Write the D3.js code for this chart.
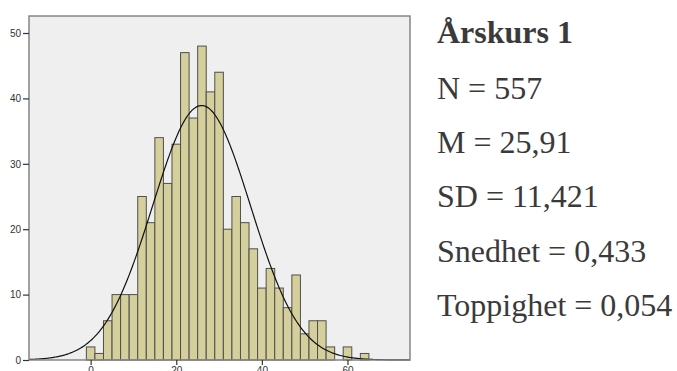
<!DOCTYPE html>
<html>
<head>
<meta charset="utf-8">
<script src="https://cdn.jsdelivr.net/npm/d3@7"></script>
<style>
html,body{margin:0;padding:0;background:#fff;}
svg{display:block;}
</style>
</head>
<body>
<svg id="chart" width="677" height="371"></svg>
<script>
// ---- Data ----
const binStarts = [-1,1,3,5,7,9,11,13,15,17,19,21,23,25,27,29,31,33,35,37,39,41,43,45,47,49,51,53,55,57,59,61,63];
const binWidth = 2;
const counts = [2,1,6,10,10,10,25,21,34,27,33,47,37,48,41,44,20,25,21,17,11,14,11,8,13,4,6,6,2,0,2,0,1];
const yTicks = [0,10,20,30,40,50];
const xTicks = [0,20,40,60];
const statN = 557, statMean = 25.91, statSD = 11.421;
const title = "Årskurs 1";
const statLines = ["N = 557","M = 25,91","SD = 11,421","Snedhet = 0,433","Toppighet = 0,054"];

// ---- Layout ----
const svg = d3.select("#chart");
const L = 29, R = 410, T = 16, B = 360;

const x = d3.scaleLinear().domain([-14.4, 74.6]).range([L, R]);
const y = d3.scaleLinear().domain([0, 52.6]).range([B, T]);

// background
svg.append("rect").attr("x", L).attr("y", T).attr("width", R - L).attr("height", B - T)
  .attr("fill", "#efefef");

// bars
const bins = binStarts.map((s, i) => ({x0: s, x1: s + binWidth, n: counts[i]}));
svg.append("g").selectAll("rect").data(bins.filter(d => d.n > 0)).join("rect")
  .attr("x", d => x(d.x0))
  .attr("y", d => y(d.n))
  .attr("width", d => x(d.x1) - x(d.x0))
  .attr("height", d => y(0) - y(d.n))
  .attr("fill", "#d4cf9b")
  .attr("stroke", "#4f4f4f")
  .attr("stroke-width", 1);

// normal curve
const pdf = v => Math.exp(-0.5 * Math.pow((v - statMean) / statSD, 2)) / (statSD * Math.sqrt(2 * Math.PI));
const xs = d3.range(x.domain()[0], x.domain()[1] + 0.01, 0.25);
svg.append("path")
  .datum(xs)
  .attr("fill", "none")
  .attr("stroke", "#111")
  .attr("stroke-width", 1.2)
  .attr("d", d3.line().x(v => x(v)).y(v => y(statN * binWidth * pdf(v))));

// frame
svg.append("rect").attr("x", L).attr("y", T).attr("width", R - L).attr("height", B - T)
  .attr("fill", "none").attr("stroke", "#858585").attr("stroke-width", 1.5);

// axes
const yAxis = svg.append("g").attr("transform", `translate(${L},0)`)
  .call(d3.axisLeft(y).tickValues(yTicks).tickSize(6).tickPadding(2).tickFormat(d3.format("d")));
const xAxis = svg.append("g").attr("transform", `translate(0,${B})`)
  .call(d3.axisBottom(x).tickValues(xTicks).tickSize(5).tickPadding(2).tickFormat(d3.format("d")));
[yAxis, xAxis].forEach(g => {
  g.select(".domain").remove();
  g.selectAll(".tick line").attr("stroke", "#333").attr("stroke-width", 1.2);
  g.selectAll(".tick text").attr("fill", "#333")
    .style("font-family", "'Liberation Sans', Arial, sans-serif").style("font-size", "10px");
});

// stats text
const tx = 437;
svg.append("text").attr("x", tx).attr("y", 43)
  .style("font-family", "'Liberation Serif', 'Times New Roman', serif")
  .style("font-size", "32px").style("font-weight", "bold").attr("fill", "#3a3a3a")
  .text(title);
const baselines = [99, 153, 207, 262, 316];
svg.append("g").selectAll("text").data(statLines).join("text")
  .attr("x", tx).attr("y", (d, i) => baselines[i])
  .style("font-family", "'Liberation Serif', 'Times New Roman', serif")
  .style("font-size", "32px").attr("fill", "#3a3a3a")
  .text(d => d);
</script>
</body>
</html>
